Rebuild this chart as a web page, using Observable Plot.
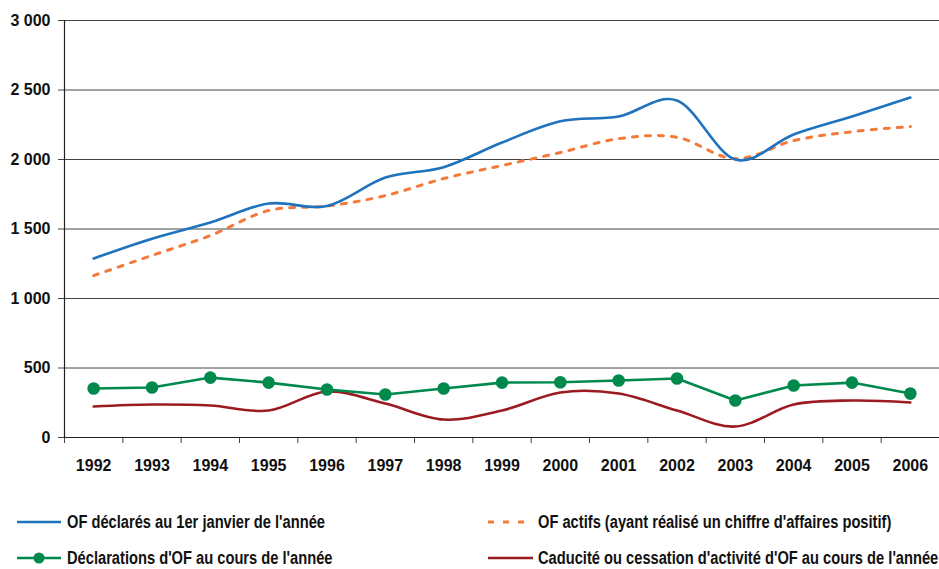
<!DOCTYPE html>
<html><head><meta charset="utf-8">
<script src="https://cdn.jsdelivr.net/npm/d3@7"></script>
<script src="https://cdn.jsdelivr.net/npm/@observablehq/plot@0.6"></script>
<style>
body{margin:0;background:#fff;}
#wrap{position:relative;width:939px;height:569px;overflow:hidden;}
.leg{position:absolute;display:flex;align-items:center;font-family:"Liberation Sans",Arial,sans-serif;font-weight:bold;font-size:17.5px;color:#111;white-space:nowrap;}
.leg svg{margin-right:3px;flex:none;}
.leg span{display:inline-block;transform-origin:left center;}
</style></head>
<body>
<div id="wrap"><div id="chart"></div></div>
<script>
const years = [1992,1993,1994,1995,1996,1997,1998,1999,2000,2001,2002,2003,2004,2005,2006];
const declares = [1288,1430,1547,1683,1665,1870,1945,2122,2275,2309,2424,2000,2180,2309,2446];
const actifs = [1165,1310,1453,1633,1665,1740,1863,1957,2050,2150,2160,2005,2136,2200,2237];
const declarations = [352,360,431,395,345,309,352,395,397,410,424,266,374,395,316];
const caducite = [223,237,230,194,331,244,129,194,324,316,194,79,237,266,252];
const yTicks = [0,500,1000,1500,2000,2500,3000];
const seriesNames = ["OF déclarés au 1er janvier de l'année","OF actifs (ayant réalisé un chiffre d'affaires positif)","Déclarations d'OF au cours de l'année","Caducité ou cessation d'activité d'OF au cours de l'année"];

const rows = (vals) => years.map((y,i)=>({year:y, value:vals[i]}));
const bounds = years.map(y=>y-0.5).concat([years[years.length-1]+0.5]);
const fmt = d => d >= 1000 ? `${Math.floor(d/1000)} ${String(d%1000).padStart(3,"0")}` : String(d);
const tickFont = {fontFamily:"'Liberation Sans', Arial, sans-serif", fontSize:"16px", fontWeight:"bold"};

const chart = Plot.plot({
  width: 939, height: 490,
  marginLeft: 64, marginRight: 0, marginTop: 20, marginBottom: 53,
  style: {background:"#fff", color:"#111", ...tickFont},
  x: {type:"linear", domain:[bounds[0], bounds[bounds.length-1]]},
  y: {domain:[0,3000]},
  marks: [
    Plot.gridY(yTicks, {stroke:"#444", strokeOpacity:1, strokeWidth:1}),
    Plot.axisY(yTicks, {tickFormat: fmt, tickSize:6, tickPadding:8, label:null, stroke:"#444"}),
    Plot.axisX(bounds, {tickSize:6, tickFormat:()=> "", label:null, stroke:"#444"}),
    Plot.axisX(years, {tickSize:0, tickPadding:22, tickFormat: d=>String(d), label:null}),
    Plot.ruleX([bounds[0]], {stroke:"#222", strokeWidth:1.2}),
    Plot.ruleY([0], {stroke:"#222", strokeWidth:1.2}),
    Plot.line(rows(caducite), {x:"year", y:"value", stroke:"#9b1b20", strokeWidth:2.6, curve:"cardinal"}),
    Plot.line(rows(declarations), {x:"year", y:"value", stroke:"#00894c", strokeWidth:2.6}),
    Plot.dot(rows(declarations), {x:"year", y:"value", fill:"#00894c", r:6.3}),
    Plot.line(rows(actifs), {x:"year", y:"value", stroke:"#f47a3c", strokeWidth:3, strokeDasharray:"5,8", curve:"cardinal"}),
    Plot.line(rows(declares), {x:"year", y:"value", stroke:"#1f72bd", strokeWidth:2.6, curve:"cardinal"})
  ]
});
document.getElementById("chart").appendChild(chart);

const legItems = [
  {name:seriesNames[0], left:17, top:511, sw:`<line x1="0" y1="11" x2="44" y2="11" stroke="#1f72bd" stroke-width="2.6"/>`},
  {name:seriesNames[1], left:488, top:511, sw:`<line x1="0" y1="11" x2="44" y2="11" stroke="#f47a3c" stroke-width="3" stroke-dasharray="6,9"/>`},
  {name:seriesNames[2], left:17, top:547, sw:`<line x1="0" y1="11" x2="44" y2="11" stroke="#00894c" stroke-width="2.6"/><circle cx="22" cy="11" r="5.5" fill="#00894c"/>`},
  {name:seriesNames[3], left:488, top:547, sw:`<line x1="0" y1="11" x2="45" y2="11" stroke="#9b1b20" stroke-width="2.6"/>`}
];
const wrap = document.getElementById("wrap");
const spans = [];
for (const it of legItems) {
  const d = document.createElement("div");
  d.className = "leg";
  d.style.left = it.left + "px";
  d.style.top = it.top + "px";
  d.innerHTML = `<svg width="47" height="22">${it.sw}</svg><span>${it.name}</span>`;
  wrap.appendChild(d);
  spans.push(d.querySelector("span"));
}
const w0 = spans[0].getBoundingClientRect().width;
const k = 258 / w0;
for (const s of spans) s.style.transform = `scaleX(${k})`;
</script>
</body></html>
